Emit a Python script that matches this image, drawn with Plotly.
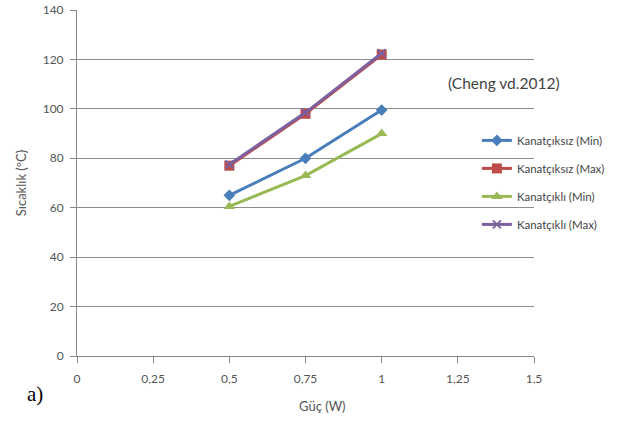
import plotly.graph_objects as go

power = [0.5, 0.75, 1.0]
kanatciksiz_min = [65, 80, 99.5]
kanatciksiz_max = [77, 98, 122]
kanatcikli_min = [60.5, 73, 90]
kanatcikli_max = [77.5, 98.5, 122.5]

series = [
    ("Kanatçıksız (Min)", kanatciksiz_min, "#4a7ebb", "diamond", 9),
    ("Kanatçıksız (Max)", kanatciksiz_max, "#be4b48", "square", 10),
    ("Kanatçıklı (Min)", kanatcikli_min, "#98b954", "triangle-up", 10),
    ("Kanatçıklı (Max)", kanatcikli_max, "#7d60a0", "x-thin-open", 8),
]

fig = go.Figure()
for i, (name, vals, color, sym, size) in enumerate(series):
    fig.add_trace(go.Scatter(
        x=power, y=vals, name=name, mode="lines+markers",
        legendgroup=f"g{i}",
        line=dict(color=color, width=3),
        marker=dict(symbol=sym, size=size, color=color,
                    line=dict(color=color, width=2 if "x" in sym else 0)),
    ))

FONT = "Lato, Open Sans, sans-serif"
tick_font = dict(family=FONT, size=12, color="#555555")

fig.update_layout(
    width=629, height=423,
    margin=dict(l=77, r=95, t=10, b=67),
    paper_bgcolor="white", plot_bgcolor="white",
    showlegend=True,
    legend=dict(
        x=0.875, y=0.665, xanchor="left", yanchor="top",
        bgcolor="rgba(0,0,0,0)",
        font=dict(family=FONT, size=11.5, color="#444444"),
        tracegroupgap=9, itemwidth=30,
    ),
    xaxis=dict(
        range=[0, 1.5], tickvals=[0, 0.25, 0.5, 0.75, 1, 1.25, 1.5],
        ticktext=["0", "0,25", "0,5", "0,75", "1", "1,25", "1,5"],
        showgrid=False, zeroline=False, automargin=False,
        showline=True, linecolor="#888888", linewidth=1,
        ticks="outside", ticklen=6, tickcolor="#888888",
        ticklabelstandoff=6,
        tickfont=tick_font,
    ),
    yaxis=dict(
        range=[0, 140], tickvals=[0, 20, 40, 60, 80, 100, 120, 140],
        showgrid=True, gridcolor="#8c8c8c", gridwidth=1, zeroline=False,
        automargin=False,
        showline=True, linecolor="#888888", linewidth=1,
        ticks="outside", ticklen=6, tickcolor="#888888",
        ticklabelstandoff=4,
        tickfont=tick_font,
        title=dict(text="Sıcaklık (ºC)", font=dict(family=FONT, size=13, color="#555555"), standoff=13),
    ),
    annotations=[
        dict(text="Güç (W)", x=0.538, y=-0.145, xref="paper", yref="paper",
             xanchor="center", yanchor="middle", showarrow=False,
             font=dict(family=FONT, size=13, color="#555555")),
        dict(text="(Cheng vd.2012)", x=0.808, y=0.79, xref="paper", yref="paper",
             xanchor="left", yanchor="middle", showarrow=False,
             font=dict(family=FONT, size=15.5, color="#444444")),
        dict(text="a)", x=0.0, y=-0.07, xref="paper", yref="paper", xshift=-52,
             xanchor="left", yanchor="top", showarrow=False,
             font=dict(family="Liberation Serif, Times New Roman, serif", size=21, color="#000000")),
    ],
)

fig.write_html("out.html")
